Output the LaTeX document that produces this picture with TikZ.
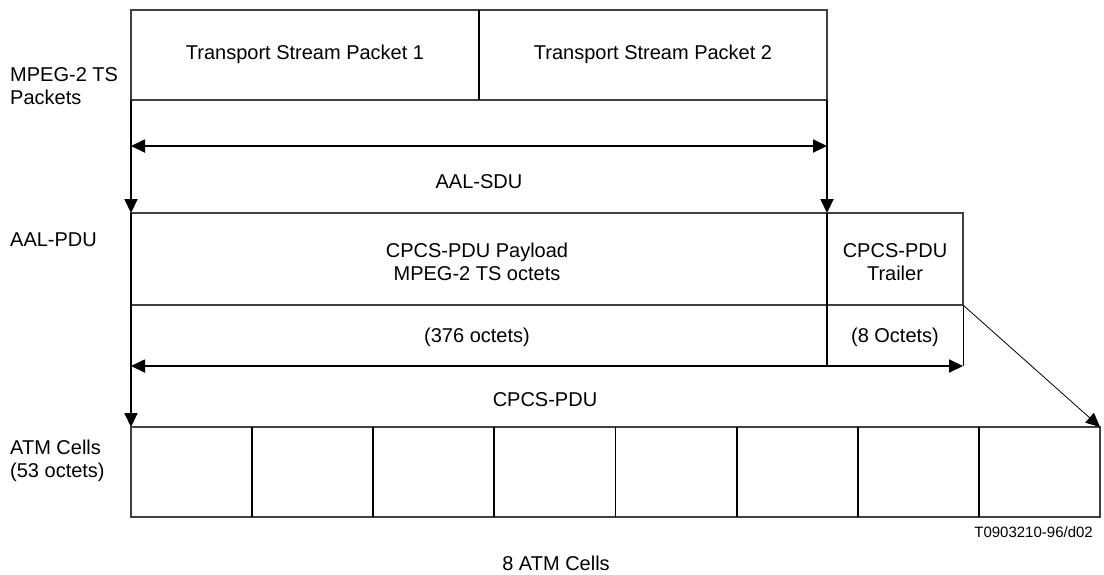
\documentclass[tikz,border=0pt]{standalone}
\usepackage{fontspec}
\setmainfont{Liberation Sans}
\usetikzlibrary{arrows.meta}
\begin{document}
\begin{tikzpicture}[x=1pt,y=-1pt,
  box/.style={draw=black!75, line width=1.1pt, inner sep=0pt, outer sep=0pt, anchor=north west, align=center},
  lbl/.style={font=\fontsize{20}{23}\selectfont, inner sep=0pt, align=center},
  lbll/.style={lbl, anchor=west, align=left},
  thk/.style={line width=1.8pt, black},
  thn/.style={line width=0.8pt, black},
  tip/.style={-{Triangle[length=14pt,width=13pt]}},
  dtip/.style={{Triangle[length=14pt,width=13pt]}-{Triangle[length=14pt,width=13pt]}}]
\useasboundingbox (0,0) rectangle (1104,574);
% top packets
\node[box, minimum width=348pt, minimum height=90pt] (ts1) at (131,10) {};
\node[box, minimum width=348pt, minimum height=90pt] (ts2) at (479,10) {};
\draw[thk] (ts1.north east) -- (ts1.south east);
\node[lbl] (t1) at (305,54) {Transport Stream Packet 1};
\node[lbl] (t2) at (653,54) {Transport Stream Packet 2};
% AAL-PDU
\node[box, minimum width=696pt, minimum height=92pt] (pay) at (131,213) {};
\node[box, minimum width=136pt, minimum height=92pt] (trl) at (827,213) {};
\node[lbl] (paytxt) at (477,262) {CPCS-PDU Payload\\MPEG-2 TS octets};
\node[lbl] (trltxt) at (895,262) {CPCS-PDU\\Trailer};
% cells
\foreach \i in {1,...,8}{
  \node[box, minimum width=121.125pt, minimum height=90pt] (c\i) at ({131+(\i-1)*121.125},427) {};
}
\foreach \i in {2,...,8}{
  \draw[thk] (c\i.north west) -- (c\i.south west);
}
% coordinates
\coordinate (sdul) at (131,146);
\coordinate (sdur) at (827,146);
\coordinate (pdul) at (131,366);
\coordinate (pdur) at (963,366);
\coordinate (mid) at (827,366);
% arrows
\draw[thk, tip] (ts1.south west) -- (pay.north west);
\draw[thk, tip] (ts2.south east) -- (pay.north east);
\draw[thk] (pay.north west) -- (pay.south west);
\draw[thk] (pay.north east) -- (pay.south east);
\draw[thk, dtip] (sdul) -- (sdur);
\draw[thk, tip] (pay.south west) -- (c1.north west);
\draw[thk] (pay.south east) -- (mid);
\draw[thn] (trl.south east) -- (pdur);
\draw[thk, dtip] (pdul) -- (pdur);
\draw[thn, tip] (trl.south east) -- (c8.north east);
% labels
\node[lbl] (sdu) at (479,182) {AAL-SDU};
\node[lbl] (o376) at (477,337) {(376 octets)};
\node[lbl] (o8) at (895,337) {(8 Octets)};
\node[lbl] (cpcs) at (545,400) {CPCS-PDU};
\node[lbll] (mp) at (10,86) {MPEG-2 TS\\Packets};
\node[lbll] (aal) at (10,240) {AAL-PDU};
\node[lbll] (atm) at (10,461) {ATM Cells\\(53 octets)};
\node[lbl, anchor=east, font=\fontsize{15}{18}\selectfont] (ref) at (1093,532) {T0903210-96/d02};
\node[lbl] (eight) at (556,563) {8 ATM Cells};
\end{tikzpicture}
\end{document}
